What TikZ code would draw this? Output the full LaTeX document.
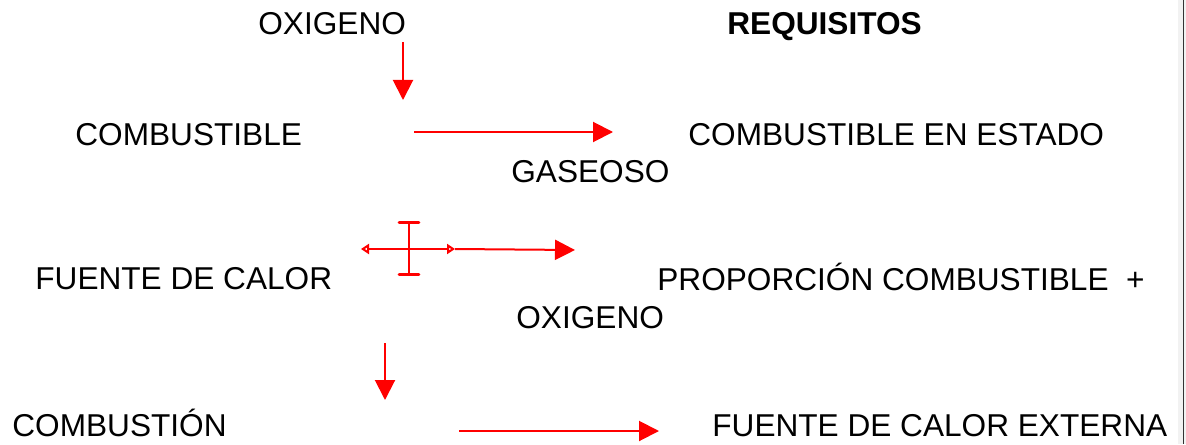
\documentclass[tikz,border=0pt]{standalone}
\usepackage{fontspec}
\setmainfont{Liberation Sans}
\usetikzlibrary{arrows.meta}
\begin{document}
\begin{tikzpicture}[x=0.5pt,y=-0.5pt,
  lbl/.style={anchor=base west,inner sep=0pt,font=\fontsize{15.8pt}{18pt}\selectfont},
  redarrow/.style={draw=red,line width=1pt,-{Triangle[length=10pt,width=10pt]}},
  redline/.style={draw=red,line width=1.3pt}]
\useasboundingbox (0,0) rectangle (1186,444);
\fill[gray!10] (1178,0) rectangle (1186,444);
\draw[black!80,line width=0.6pt] (1183.5,0) -- (1183.5,444);
% texts
\node[lbl] (oxi1) at (258,35) {OXIGENO};
\node[lbl,font=\fontsize{15.8pt}{18pt}\selectfont\bfseries] (req) at (727,35) {REQUISITOS};
\node[lbl] (comb) at (75,145) {COMBUSTIBLE};
\node[lbl] (combest) at (688,145) {COMBUSTIBLE EN ESTADO};
\node[lbl] (gas) at (511,182) {GASEOSO};
\node[lbl] (fuente) at (35,289) {FUENTE DE CALOR};
\node[lbl] (prop) at (657,290) {PROPORCIÓN COMBUSTIBLE \ +};
\node[lbl] (oxi2) at (516,328) {OXIGENO};
\node[lbl] (combus) at (12,436) {COMBUSTIÓN};
\node[lbl] (ext) at (712,436) {FUENTE DE CALOR EXTERNA};
% connector coordinates
\coordinate (a1s) at (403,42);  \coordinate (a1e) at (403,100);
\coordinate (a2s) at (414,132); \coordinate (a2e) at (613,132);
\coordinate (hl) at (361,249);  \coordinate (hr) at (455,249);
\coordinate (a3e) at (575,250);
\coordinate (vt) at (409,221);  \coordinate (vb) at (409,276);
\coordinate (a4s) at (385,343); \coordinate (a4e) at (385,400);
\coordinate (a5s) at (459,431); \coordinate (a5e) at (659,431);
% arrows
\draw[redarrow] (a1s) -- (a1e);
\draw[redarrow] (a2s) -- (a2e);
\draw[redline,{Triangle[open,length=4pt,width=5pt]}-{Triangle[open,length=4pt,width=5pt]}] (hl) -- (hr);
\draw[redarrow] (hr) -- (a3e);
\draw[redline,{Bar[width=10pt,line cap=round]}-{Bar[width=10pt,line cap=round]}] (vt) -- (vb);
\draw[redarrow] (a4s) -- (a4e);
\draw[redarrow] (a5s) -- (a5e);
\end{tikzpicture}
\end{document}
